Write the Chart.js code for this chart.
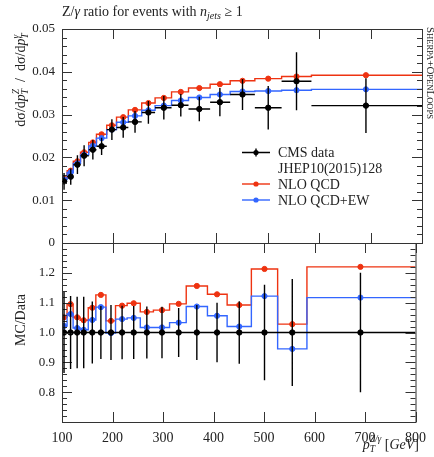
<!DOCTYPE html>
<html>
<head>
<meta charset="utf-8">
<script src="https://cdn.jsdelivr.net/npm/chart.js@4.4.0/dist/chart.umd.min.js"></script>
<style>
body { margin: 0; background: #fff; }
#wrap { position: relative; width: 434px; height: 457px; }
#wrap canvas { position: absolute; left: 0; top: 0; }
</style>
</head>
<body>
<div id="wrap">
  <canvas id="topPanel" width="434" height="457"></canvas>
  <canvas id="ratioPanel" width="434" height="457"></canvas>
</div>
<script>
// bin edges and centres in pT (GeV)
var edges = [100, 110, 122, 136, 152, 167, 187, 206, 229, 255, 281, 313, 346, 388, 427, 475, 527, 585, 800];
var centers = [104, 117, 130, 143, 160, 177, 197, 219, 242, 268, 298, 331, 367, 407, 451, 501, 556, 691];

// CMS data, JHEP10(2015)128
var cms = [0.0144, 0.0155, 0.0183, 0.0204, 0.0218, 0.0226, 0.0265, 0.0270, 0.0283, 0.0305, 0.0316, 0.0322, 0.0313, 0.0329, 0.0347, 0.0316, 0.0378, 0.0321];
var cmsRelErr = [0.136, 0.122, 0.12, 0.12, 0.104, 0.089, 0.092, 0.09, 0.089, 0.087, 0.086, 0.082, 0.092, 0.10, 0.105, 0.16, 0.179, 0.20];
var dataRatio = [1, 1, 1, 1, 1, 1, 1, 1, 1, 1, 1, 1, 1, 1, 1, 1, 1, 1];

// predictions
var nlo = [0.0151, 0.0169, 0.0191, 0.0212, 0.0235, 0.0254, 0.0275, 0.0294, 0.0311, 0.0327, 0.0339, 0.0353, 0.0362, 0.0371, 0.0379, 0.0384, 0.0389, 0.0392];
var nloEw = [0.0148, 0.0165, 0.0186, 0.0206, 0.0227, 0.0245, 0.0265, 0.0282, 0.0297, 0.0310, 0.0321, 0.0333, 0.0340, 0.0347, 0.0354, 0.0355, 0.0357, 0.0359];
var nloRatio = [1.051, 1.095, 1.051, 1.041, 1.083, 1.126, 1.039, 1.090, 1.098, 1.069, 1.075, 1.096, 1.156, 1.128, 1.092, 1.213, 1.028, 1.220];
var nloEwRatio = [1.022, 1.062, 1.015, 1.009, 1.042, 1.085, 0.998, 1.045, 1.049, 1.017, 1.017, 1.033, 1.087, 1.056, 1.020, 1.122, 0.945, 1.117];

// tick labels
var xTicks = [100, 200, 300, 400, 500, 600, 700, 800];
var yTicks = [0, 0.01, 0.02, 0.03, 0.04, 0.05];
var ratioTicks = [0.7, 0.8, 0.9, 1.0, 1.1, 1.2, 1.3];

var red = '#ee3311', blue = '#3366ff';
var serif = "'Liberation Serif', serif";
Chart.defaults.font.family = serif;
Chart.defaults.color = '#222';

function histo(vals) {
  var pts = [];
  for (var i = 0; i < vals.length; i++) pts.push({x: edges[i], y: vals[i]});
  pts.push({x: edges[edges.length - 1], y: vals[vals.length - 1]});
  return pts;
}
function marks(vals) {
  return vals.map(function (v, i) { return {x: centers[i], y: v}; });
}

// text with sub/superscripts: [text, font, dy, overlayPrevious]
function rich(ctx, runs, x, y, align) {
  var cx = 0, start = 0, pos = [];
  runs.forEach(function (r) {
    ctx.font = r[1];
    var w = ctx.measureText(r[0]).width;
    if (r[3]) { pos.push(start); cx = Math.max(cx, start + w); }
    else { start = cx; pos.push(cx); cx += w; }
  });
  var x0 = align === 'center' ? x - cx / 2 : (align === 'right' ? x - cx : x);
  ctx.textAlign = 'left';
  ctx.textBaseline = 'alphabetic';
  runs.forEach(function (r, i) {
    ctx.font = r[1];
    ctx.fillText(r[0], x0 + pos[i], y + r[2]);
  });
}

var framePlugin = {
  id: 'frame',
  afterDatasetsDraw: function (chart, args, opt) {
    var ctx = chart.ctx, a = chart.chartArea, xs = chart.scales.x, ys = chart.scales.y;
    ctx.save();
    ctx.strokeStyle = '#333';
    ctx.lineWidth = 1;
    ctx.strokeRect(a.left + 0.5, a.top + 0.5, a.right - a.left, a.bottom - a.top);
    ctx.beginPath();
    xTicks.forEach(function (v) {
      var px = Math.round(xs.getPixelForValue(v)) + 0.5;
      ctx.moveTo(px, a.top); ctx.lineTo(px, a.top + 10);
      ctx.moveTo(px, a.bottom); ctx.lineTo(px, a.bottom - 10);
    });
    var n = Math.round((ys.max - ys.min) / opt.minor);
    for (var i = 0; i <= n; i++) {
      var len = (i % opt.per === 0) ? 10 : 5;
      var py = Math.round(ys.getPixelForValue(ys.min + i * opt.minor)) + 0.5;
      ctx.moveTo(a.left, py); ctx.lineTo(a.left + len, py);
      ctx.moveTo(a.right, py); ctx.lineTo(a.right - len, py);
    }
    ctx.stroke();
    ctx.restore();
  }
};

var errPlugin = {
  id: 'errs',
  afterDatasetsDraw: function (chart, args, opt) {
    var ctx = chart.ctx, xs = chart.scales.x, ys = chart.scales.y;
    ctx.save();
    ctx.strokeStyle = '#000';
    ctx.lineWidth = 1.4;
    ctx.beginPath();
    opt.vals.forEach(function (v, i) {
      var e = v * cmsRelErr[i];
      var px = xs.getPixelForValue(centers[i]), py = ys.getPixelForValue(v);
      ctx.moveTo(px, ys.getPixelForValue(v - e));
      ctx.lineTo(px, ys.getPixelForValue(v + e));
      if (opt.xbar) {
        ctx.moveTo(xs.getPixelForValue(edges[i]), py);
        ctx.lineTo(xs.getPixelForValue(edges[i + 1]), py);
      }
    });
    ctx.stroke();
    ctx.restore();
  }
};

var topText = {
  id: 'topText',
  afterDraw: function (chart) {
    var ctx = chart.ctx;
    ctx.save();
    ctx.fillStyle = '#222';
    // title
    rich(ctx, [
      ['Z/', '14px ' + serif, 0],
      ['\u03b3', 'italic 14px ' + serif, 0],
      [' ratio for events with ', '14px ' + serif, 0],
      ['n', 'italic 14px ' + serif, 0],
      ['jets', 'italic 10px ' + serif, 3],
      [' \u2265 1', '14px ' + serif, 0]
    ], 62, 16, 'left');
    // y title
    ctx.save();
    ctx.translate(25, 80);
    ctx.rotate(-Math.PI / 2);
    rich(ctx, [
      ['d\u03c3/d', '14px ' + serif, 0],
      ['p', 'italic 14px ' + serif, 0],
      ['T', 'italic 9.5px ' + serif, 3],
      ['Z', 'italic 9.5px ' + serif, -6, true],
      ['  /  d\u03c3/d', '14px ' + serif, 0],
      ['p', 'italic 14px ' + serif, 0],
      ['T', 'italic 9.5px ' + serif, 3],
      ['\u03b3', 'italic 9.5px ' + serif, -6, true]
    ], 0, 0, 'center');
    ctx.restore();
    // generator label
    ctx.save();
    ctx.translate(427, 27);
    ctx.rotate(Math.PI / 2);
    var big = '11px ' + serif, sm = '8.5px ' + serif;
    rich(ctx, [['S', big, 0], ['HERPA', sm, 0], ['+', big, 0], ['O', big, 0], ['PEN', sm, 0], ['L', big, 0], ['OOPS', sm, 0]], 0, 0, 'left');
    ctx.restore();
    // legend
    var items = [
      {y: 152.5, ty: 157, c: '#000', t: 'CMS data', bar: true},
      {y: null, ty: 173, t: 'JHEP10(2015)128'},
      {y: 184, ty: 188.5, c: red, t: 'NLO QCD'},
      {y: 200, ty: 204.5, c: blue, t: 'NLO QCD+EW'}
    ];
    items.forEach(function (it) {
      if (it.y !== null) {
        ctx.strokeStyle = it.c;
        ctx.fillStyle = it.c;
        ctx.lineWidth = 1.4;
        ctx.beginPath();
        ctx.moveTo(242, it.y); ctx.lineTo(270, it.y);
        if (it.bar) { ctx.moveTo(256, it.y - 4); ctx.lineTo(256, it.y + 4); }
        ctx.stroke();
        ctx.beginPath();
        ctx.arc(256, it.y, 2.6, 0, Math.PI * 2);
        ctx.fill();
      }
      ctx.fillStyle = '#222';
      ctx.font = '14px ' + serif;
      ctx.textAlign = 'left';
      ctx.textBaseline = 'alphabetic';
      ctx.fillText(it.t, 278, it.ty);
    });
    ctx.restore();
  }
};

var bottomText = {
  id: 'bottomText',
  afterDraw: function (chart) {
    var ctx = chart.ctx;
    ctx.save();
    ctx.fillStyle = '#222';
    ctx.save();
    ctx.translate(25, 320);
    ctx.rotate(-Math.PI / 2);
    rich(ctx, [['MC/Data', '14px ' + serif, 0]], 0, 0, 'center');
    ctx.restore();
    rich(ctx, [
      ['p', 'italic 14px ' + serif, 0],
      ['T', 'italic 9.5px ' + serif, 3],
      ['Z/\u03b3', 'italic 9.5px ' + serif, -7, true],
      [' [', '14px ' + serif, 0],
      ['GeV', 'italic 14px ' + serif, 0],
      [']', '14px ' + serif, 0]
    ], 419, 449, 'right');
    ctx.restore();
  }
};

function fixTicks(list) {
  return function (s) { s.ticks = list.map(function (v) { return {value: v}; }); };
}

new Chart(document.getElementById('topPanel'), {
  type: 'scatter',
  data: {
    datasets: [
      {data: marks(cms), backgroundColor: '#000', borderColor: '#000', pointRadius: 2.7, order: 0},
      {data: histo(nlo), showLine: true, stepped: true, borderColor: red, borderWidth: 1.4, pointRadius: 0, order: 2},
      {data: marks(nlo), backgroundColor: red, borderColor: red, pointRadius: 2.6, order: 2},
      {data: histo(nloEw), showLine: true, stepped: true, borderColor: blue, borderWidth: 1.4, pointRadius: 0, order: 1},
      {data: marks(nloEw), backgroundColor: blue, borderColor: blue, pointRadius: 2.6, order: 1}
    ]
  },
  options: {
    responsive: false,
    animation: false,
    layout: {padding: {top: 29, bottom: 214, left: 0, right: 12}},
    plugins: {
      legend: {display: false},
      tooltip: {enabled: false},
      frame: {minor: 0.002, per: 5},
      errs: {vals: cms, xbar: true}
    },
    scales: {
      x: {
        type: 'linear', min: 100, max: 800,
        ticks: {display: false},
        grid: {display: false},
        border: {display: false},
        afterBuildTicks: fixTicks(xTicks),
        afterFit: function (s) { s.height = 0; }
      },
      y: {
        min: 0, max: 0.05,
        afterBuildTicks: fixTicks(yTicks),
        ticks: {
          padding: 7,
          font: {size: 13},
          callback: function (v) { return v === 0 ? '0' : v.toFixed(2); }
        },
        grid: {display: false, drawTicks: false},
        border: {display: false},
        afterFit: function (s) { s.width = 62; }
      }
    }
  },
  plugins: [framePlugin, errPlugin, topText]
});

new Chart(document.getElementById('ratioPanel'), {
  type: 'scatter',
  data: {
    datasets: [
      {data: histo(dataRatio), showLine: true, stepped: true, borderColor: '#000', borderWidth: 1.5, pointRadius: 0, order: 0},
      {data: marks(dataRatio), backgroundColor: '#000', borderColor: '#000', pointRadius: 2.7, order: 0},
      {data: histo(nloRatio), showLine: true, stepped: true, borderColor: red, borderWidth: 1.4, pointRadius: 0, order: 2},
      {data: marks(nloRatio), backgroundColor: red, borderColor: red, pointRadius: 2.6, order: 2},
      {data: histo(nloEwRatio), showLine: true, stepped: true, borderColor: blue, borderWidth: 1.4, pointRadius: 0, order: 1},
      {data: marks(nloEwRatio), backgroundColor: blue, borderColor: blue, pointRadius: 2.6, order: 1}
    ]
  },
  options: {
    responsive: false,
    animation: false,
    layout: {padding: {top: 243, bottom: 0, left: 0, right: 12}},
    plugins: {
      legend: {display: false},
      tooltip: {enabled: false},
      frame: {minor: 0.02, per: 5},
      errs: {vals: dataRatio, xbar: false}
    },
    scales: {
      x: {
        type: 'linear', min: 100, max: 800,
        afterBuildTicks: fixTicks(xTicks),
        ticks: {padding: 8, font: {size: 14}, maxRotation: 0},
        grid: {display: false, drawTicks: false},
        border: {display: false},
        afterFit: function (s) { s.height = 35; }
      },
      y: {
        min: 0.7, max: 1.3,
        afterBuildTicks: fixTicks(ratioTicks),
        ticks: {
          padding: 7,
          font: {size: 13},
          callback: function (v) {
            var r = Math.round(v * 10) / 10;
            return (r <= 0.7 || r >= 1.3) ? '' : r.toFixed(1);
          }
        },
        grid: {display: false, drawTicks: false},
        border: {display: false},
        afterFit: function (s) { s.width = 62; }
      }
    }
  },
  plugins: [framePlugin, errPlugin, bottomText]
});
</script>
</body>
</html>
